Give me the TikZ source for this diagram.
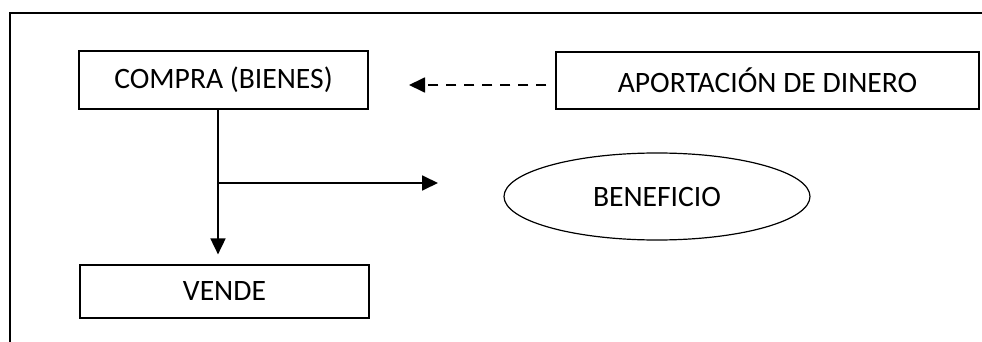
\documentclass[tikz,border=0pt]{standalone}
\usepackage{fontspec}
\setmainfont{Carlito}
\usetikzlibrary{arrows.meta,shapes.geometric}

\begin{document}
\begin{tikzpicture}[x=1pt,y=-1pt,
  every node/.style={font=\fontsize{29.6}{34}\selectfont, inner sep=0pt},
  boxnode/.style={draw, line width=1.2pt, rectangle},
  ovalnode/.style={draw, line width=1.2pt, ellipse},
  flow/.style={line width=1.8pt, -{Triangle[length=16pt,width=15pt]}},
  frameline/.style={line width=2pt}
]
  % canvas
  \useasboundingbox (0,0) rectangle (982,342);

  % open frame along the top and left
  \draw[frameline] (10,342) -- (10,13) -- (982,13);

  % nodes
  \node[boxnode, minimum width=289pt, minimum height=58pt] (compra) at (223.5,80) {COMPRA (BIENES)};
  \node[boxnode, minimum width=423pt, minimum height=57pt] (aport) at (767.5,80.5) {APORTACIÓN DE DINERO};
  \node[boxnode, minimum width=289pt, minimum height=53pt] (vende) at (224.5,291.5) {VENDE};
  \node[ovalnode, minimum width=306pt, minimum height=87pt] (benef) at (657,196.5) {BENEFICIO};

  % helper points
  \coordinate (split) at (218,183);
  \coordinate (branchend) at (438,183);
  \coordinate (dashend) at (409,85);

  % connectors
  \draw[flow, shorten >=10pt] (compra.south -| split) -- (vende.north -| split);
  \draw[flow] (split) -- (branchend);
  \draw[flow, dash pattern=on 10pt off 8pt, shorten <=9pt] (aport.west |- dashend) -- (dashend);
\end{tikzpicture}
\end{document}
